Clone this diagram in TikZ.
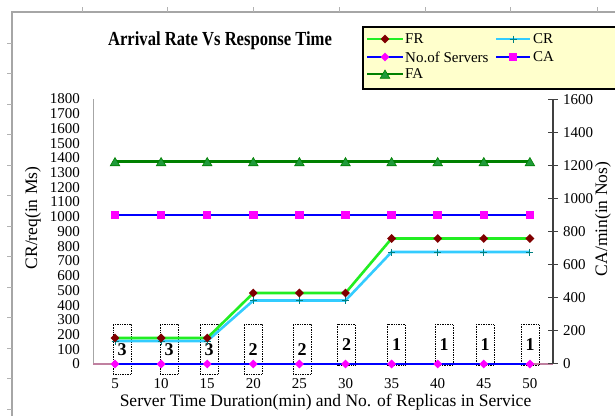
\documentclass[tikz,border=0pt]{standalone}
\usepackage{fontspec}
\setmainfont{Liberation Serif}
\usetikzlibrary{shapes.geometric}

\definecolor{frline}{HTML}{22EE22}
\definecolor{frdot}{HTML}{800000}
\definecolor{crline}{HTML}{33CCFF}
\definecolor{crdot}{HTML}{008080}
\definecolor{svline}{HTML}{0000FF}
\definecolor{pinkdot}{HTML}{FF00FF}
\definecolor{faline}{HTML}{008000}
\definecolor{fadot}{HTML}{1F9A3A}
\definecolor{xaxis}{HTML}{C080A0}
\definecolor{legfill}{HTML}{FFFFCC}

\newcommand{\tickfont}{\fontsize{15}{15}\selectfont}
\newcommand{\titlefont}{\fontsize{17.5}{17.5}\selectfont}

\begin{document}
\begin{tikzpicture}[x=1pt,y=-1pt,
    frstyle/.style={frline, line width=2.6pt},
    crstyle/.style={crline, line width=2.6pt},
    svstyle/.style={svline, line width=2.6pt},
    fastyle/.style={faline, line width=2.6pt},
    frmark/.style={diamond, fill=frdot, inner sep=0pt, minimum size=9pt},
    svmark/.style={diamond, fill=pinkdot, inner sep=0pt, minimum size=9pt},
    camark/.style={rectangle, fill=pinkdot, inner sep=0pt, minimum size=8.5pt},
    famark/.style={regular polygon, regular polygon sides=3, fill=fadot, draw=faline,
                   line width=0.6pt, inner sep=0pt, minimum size=11pt},
    numbox/.style={draw, densely dotted, line width=0.7pt, minimum width=18pt,
                   inner sep=0pt, anchor=north, font=\fontsize{18}{18}\selectfont\bfseries},
    ticklbl/.style={font=\tickfont, inner sep=1pt}]
\clip (0,0) rectangle (615,416);
\fill[white] (0,0) rectangle (615,416);

% sheet frame
\draw[gray!70, line width=1.5pt] (12,416) -- (12,12) -- (615,12);
\foreach \t in {82,167,253,339,425,510,597}
    \draw[gray!60] (\t,7) -- (\t,12);
\foreach \t in {43,73.5,104,134.5,165,195.5,226,256.5,287,317.5,348,378.5,409}
    \draw[gray!60] (7,\t) -- (12,\t);

% title
\node (title) at (220,41) {\scalebox{1}[1.2]{\fontsize{16.6}{16.6}\selectfont\bfseries Arrival Rate Vs Response Time}};

% axes
\draw[gray!70, line width=1pt] (93,99) -- (93,364);
\draw[xaxis, line width=1.5pt] (93,364) -- (553,364);
\draw[black!75, line width=1.5pt] (553,99) -- (553,364);
\foreach \v in {0,100,...,1800}
    \node[ticklbl, anchor=east] (l\v) at (81,364-\v*0.14722) {\v};
\foreach \v in {0,200,...,1600}{
    \draw[black!75, line width=1.2pt] (548,363.5-\v*0.165) -- (558,363.5-\v*0.165);
    \node[ticklbl, anchor=west] (r\v) at (562,363.5-\v*0.165) {\v};
}
\node[rotate=90, font=\titlefont] (ylab) at (33,218) {CR/req(in Ms)};
\node[rotate=90, font=\titlefont] (y2lab) at (603,219) {CA/min(in Nos)};
\node[font=\titlefont] (xlab) at (325.5,402) {Server Time Duration(min) and No. of Replicas in Service};

% data points
\foreach \yf/\yr [count=\i] in {338/341,338/341,338/341,293/300.5,293/300.5,293/300.5,
                                238.5/252,238.5/252,238.5/252,238.5/252}{
    \pgfmathsetmacro\xx{115+46.1*(\i-1)}
    \pgfmathtruncatemacro\lab{5*\i}
    \coordinate (fr\i) at (\xx,\yf);
    \coordinate (cr\i) at (\xx,\yr);
    \coordinate (ca\i) at (\xx,215);
    \coordinate (fa\i) at (\xx,161.5);
    \coordinate (sv\i) at (\xx,364);
    \node[ticklbl] (x\i) at (\xx,384) {\lab};
}

% replica boxes
\foreach \c/\n/\h [count=\i] in {122/3/50,169/3/50,209/3/50,253/2/50,302/2/50,
                                 346.5/2/41,396.5/1/41,444/1/41,485/1/41,530/1/41}
    \node[numbox, minimum height=\h] (box\i) at (\c,324) {\n};

% lines
\draw[crstyle] (cr1) \foreach \i in {2,...,10}{-- (cr\i)};
\draw[frstyle] (fr1) \foreach \i in {2,...,10}{-- (fr\i)};
\draw[svstyle] (sv1) \foreach \i in {2,...,10}{-- (sv\i)};
\draw[svstyle] (ca1) \foreach \i in {2,...,10}{-- (ca\i)};
\draw[fastyle] (fa1) \foreach \i in {2,...,10}{-- (fa\i)};

% markers
\foreach \i in {1,...,10}{
    \draw[crdot, line width=1pt] (cr\i) +(-3.5,0) -- +(3.5,0) (cr\i) +(0,-3.5) -- +(0,3.5);
    \node[frmark] at (fr\i) {};
    \node[svmark] at (sv\i) {};
    \node[camark] at (ca\i) {};
    \node[famark] at ([yshift=-1.5pt]fa\i) {};
}

% legend
\draw[black, line width=1.5pt, fill=legfill] (363,27) rectangle (625,89);
\coordinate (kfr) at (367,39);
\coordinate (ksv) at (367,57);
\coordinate (kfa) at (367,74);
\coordinate (kcr) at (496,39);
\coordinate (kca) at (496,57);
\draw[frstyle] (kfr) -- ++(36,0);
\draw[svstyle] (ksv) -- ++(36,0);
\draw[fastyle] (kfa) -- ++(36,0);
\draw[crstyle] (kcr) -- ++(34,0);
\draw[svstyle] (kca) -- ++(34,0);
\node[frmark] at ([xshift=18pt]kfr) {};
\node[svmark] at ([xshift=18pt]ksv) {};
\node[famark] at ([xshift=18pt,yshift=-1.5pt]kfa) {};
\draw[crdot, line width=1pt] ([xshift=17pt]kcr) +(-3.5,0) -- +(3.5,0) ([xshift=17pt]kcr) +(0,-3.5) -- +(0,3.5);
\node[camark] at ([xshift=17pt]kca) {};
\node[ticklbl, anchor=west] (tfr) at (404,39) {FR};
\node[ticklbl, anchor=west] (tsv) at (404,57) {No.of Servers};
\node[ticklbl, anchor=west] (tfa) at (404,74) {FA};
\node[ticklbl, anchor=west] (tcr) at (532,39) {CR};
\node[ticklbl, anchor=west] (tca) at (532,57) {CA};

\end{tikzpicture}
\end{document}
